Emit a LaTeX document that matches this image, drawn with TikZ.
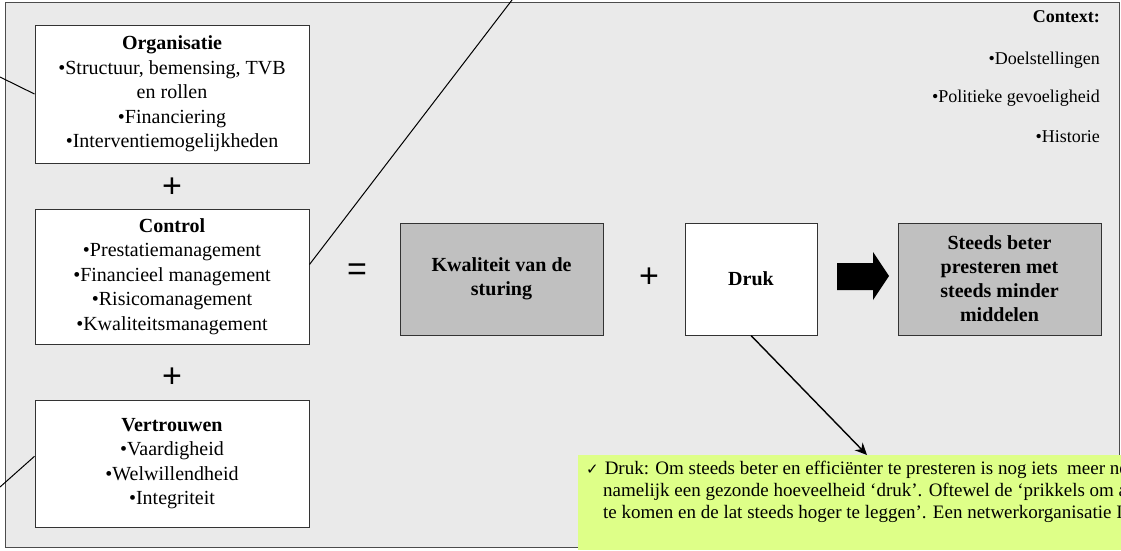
\documentclass[tikz,border=0pt]{standalone}
\usepackage{fontspec}
\setmainfont{Liberation Serif}
\setsansfont{Liberation Sans}
\newfontfamily\symfont{DejaVu Sans}
\usetikzlibrary{arrows.meta}
\definecolor{panelgrey}{RGB}{234,234,234}
\definecolor{boxgrey}{RGB}{192,192,192}
\definecolor{notegreen}{RGB}{222,255,136}
\begin{document}
\begin{tikzpicture}[x=1pt,y=-1pt,font=\fontsize{20}{24.5}\selectfont,
	listbox/.style={draw=black!80,line width=1pt,fill=white,minimum width=274pt,align=center,inner sep=0pt},
	resbox/.style={draw=black!80,line width=1pt,fill=boxgrey,minimum width=203pt,minimum height=112pt,align=center,inner sep=0pt,font=\bfseries\fontsize{20}{24}\selectfont},
	sign/.style={inner sep=0pt,font=\sffamily\fontsize{34}{34}\selectfont},
	ctx/.style={anchor=east,inner sep=0pt,font=\rmfamily\fontsize{18}{20}\selectfont},
	notetext/.style={anchor=base west,inner sep=0pt,font=\rmfamily\fontsize{19}{22}\selectfont}]
	\useasboundingbox (0,0) rectangle (1121,550);
	\clip (0,0) rectangle (1121,550);
	\draw[black!70,fill=panelgrey] (5,2) rectangle (1119,547);
	% left column
	\node[listbox,minimum height=138pt] (org) at (172,94) {\textbf{Organisatie}\\•Structuur, bemensing, TVB\\en rollen\\•Financiering\\•Interventiemogelijkheden};
	\node[listbox,minimum height=135pt] (ctrl) at (172,276.5) {\textbf{Control}\\•Prestatiemanagement\\•Financieel management\\•Risicomanagement\\•Kwaliteitsmanagement};
	\node[listbox,minimum height=127pt] (vert) at (172,463.5) {\textbf{Vertrouwen}\\•Vaardigheid\\•Welwillendheid\\•Integriteit};
	\node[sign] (plusa) at (172,188) {+};
	\node[sign] (plusb) at (172,378) {+};
	\node[sign] (eq) at (357,272) {=};
	% middle row
	\node[resbox] (kwal) at (501.5,279) {Kwaliteit van de\\sturing};
	\node[sign] (plusc) at (649,278) {+};
	\node[resbox,fill=white,minimum width=132pt] (druk) at (751,279) {Druk};
	\node[resbox] (res) at (999.5,279) {Steeds beter\\presteren met\\steeds minder\\middelen};
	\path (837,263) coordinate (a1) (873,263) coordinate (a2) (873,252) coordinate (a3) (889,276) coordinate (a4)
		(873,300) coordinate (a5) (873,290) coordinate (a6) (837,290) coordinate (a7);
	\fill (a1) -- (a2) -- (a3) -- (a4) -- (a5) -- (a6) -- (a7) -- cycle;
	% context
	\node[ctx,font=\rmfamily\bfseries\fontsize{18}{20}\selectfont] (ctxh) at (1100,17) {Context:};
	\foreach \t/\y in {Doelstellingen/60,Politieke gevoeligheid/98,Historie/137}\node[ctx] at (1100,\y) {•\t};
	% connectors leaving the picture
	\path (0,77) coordinate (lo) (0,487) coordinate (lv) (512,0) coordinate (tc);
	\draw[line width=1pt] (org.west) -- (lo) (vert.177) -- (lv) (ctrl.5) -- (tc);
	% note
	\node[fill=notegreen,anchor=north west,minimum width=543pt,minimum height=95pt,inner sep=0pt] (note) at (578,455) {};
	\coordinate (tip) at (867,455);
	\draw[line width=1.4pt,-{Stealth[length=12pt,width=11pt]}] (druk.south) -- (tip);
	\node[notetext] (nl1) at (586,474) {{\symfont\fontsize{15}{15}\selectfont ✓}\hspace{6pt}Druk: Om steeds beter en efficiënter te presteren is nog iets\ \ meer ne};
	\node[notetext] (nl2) at (603,496) {namelijk een gezonde hoeveelheid ‘druk’. Oftewel de ‘prikkels om a};
	\node[notetext] (nl3) at (603,518) {te komen en de lat steeds hoger te leggen’. Een netwerkorganisatie I};
\end{tikzpicture}
\end{document}
